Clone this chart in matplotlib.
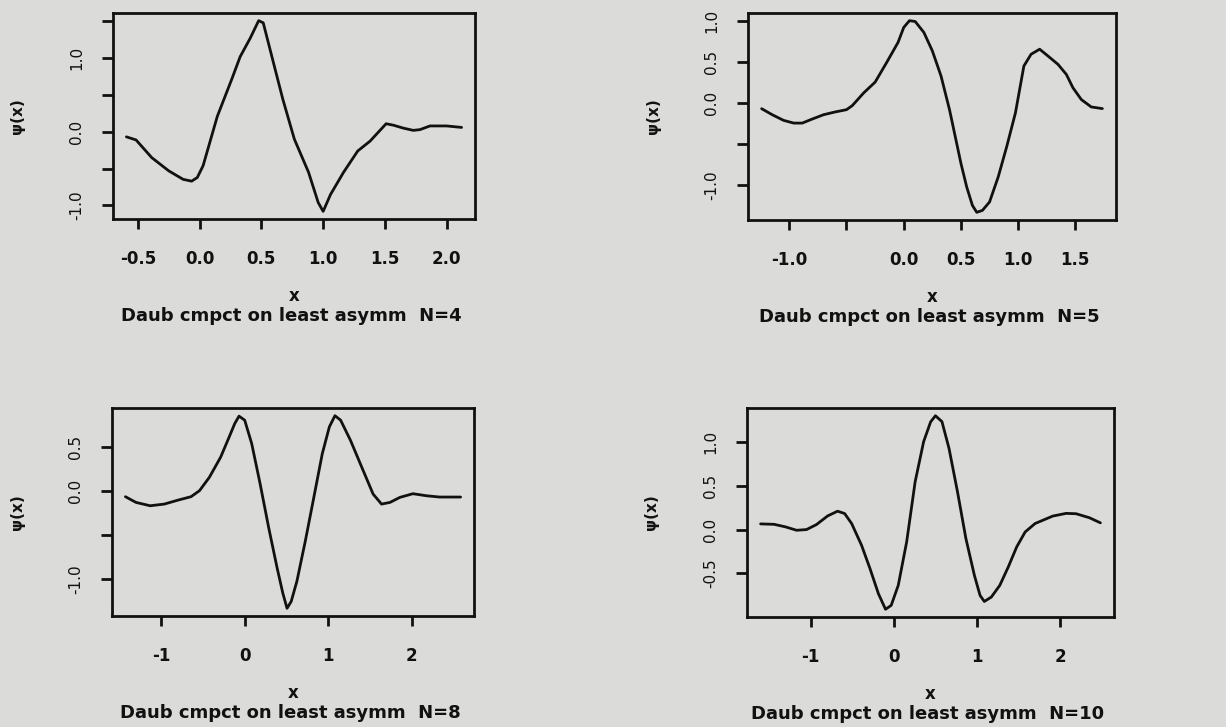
import matplotlib
matplotlib.use("Agg")
import matplotlib.pyplot as plt

# ---------------- data ----------------
titles = ["Daub cmpct on least asymm  N=4", "Daub cmpct on least asymm  N=5",
          "Daub cmpct on least asymm  N=8", "Daub cmpct on least asymm  N=10"]

x_n4 = [-0.593, -0.515, -0.388, -0.25, -0.134, -0.065, -0.019, 0.028, 0.143, 0.259,
        0.328, 0.409, 0.478, 0.515, 0.605, 0.674, 0.767, 0.882, 0.960, 1.000,
        1.060, 1.165, 1.280, 1.380, 1.510, 1.569, 1.650, 1.730, 1.784, 1.865,
        2.000, 2.121]
y_n4 = [-0.068, -0.11, -0.35, -0.53, -0.645, -0.67, -0.62, -0.46, 0.21, 0.71,
        1.02, 1.27, 1.51, 1.48, 0.89, 0.44, -0.10, -0.55, -0.96, -1.08,
        -0.85, -0.55, -0.26, -0.126, 0.11, 0.09, 0.05, 0.02, 0.03, 0.08,
        0.08, 0.06]

x_n5 = [-1.240, -1.148, -1.048, -0.96, -0.885, -0.798, -0.698, -0.598, -0.498, -0.448,
        -0.348, -0.248, -0.148, -0.048, 0.002, 0.052, 0.102, 0.178, 0.252, 0.328,
        0.402, 0.452, 0.502, 0.552, 0.602, 0.640, 0.690, 0.752, 0.828, 0.902,
        0.978, 1.052, 1.115, 1.19, 1.262, 1.350, 1.423, 1.481, 1.554, 1.641,
        1.738]
y_n5 = [-0.07, -0.143, -0.212, -0.245, -0.245, -0.196, -0.143, -0.11, -0.082, -0.033,
        0.122, 0.253, 0.49, 0.735, 0.918, 1.0, 0.99, 0.857, 0.633, 0.327,
        -0.082, -0.408, -0.735, -1.02, -1.245, -1.33, -1.306, -1.204, -0.898, -0.531,
        -0.122, 0.449, 0.592, 0.653, 0.571, 0.469, 0.347, 0.184, 0.041, -0.049,
        -0.069]

x_n8 = [-1.430, -1.303, -1.134, -0.965, -0.796, -0.644, -0.542, -0.424, -0.289, -0.187,
        -0.12, -0.069, -0.001, 0.083, 0.184, 0.286, 0.387, 0.455, 0.506, 0.556,
        0.624, 0.725, 0.827, 0.928, 1.013, 1.08, 1.148, 1.266, 1.401, 1.537,
        1.638, 1.739, 1.857, 2.014, 2.174, 2.333, 2.585]
y_n8 = [-0.061, -0.126, -0.164, -0.145, -0.099, -0.061, 0.008, 0.16, 0.389, 0.618,
        0.771, 0.855, 0.809, 0.542, 0.084, -0.412, -0.87, -1.156, -1.33, -1.252,
        -1.023, -0.565, -0.069, 0.427, 0.733, 0.86, 0.809, 0.58, 0.275, -0.031,
        -0.145, -0.126, -0.069, -0.027, -0.05, -0.065, -0.065]

x_n10 = [-1.600, -1.438, -1.302, -1.167, -1.048, -0.929, -0.794, -0.675, -0.590, -0.506,
         -0.387, -0.285, -0.184, -0.099, -0.031, 0.054, 0.155, 0.257, 0.359, 0.443,
         0.501, 0.579, 0.664, 0.766, 0.867, 0.969, 1.037, 1.088, 1.172, 1.274,
         1.376, 1.477, 1.579, 1.698, 1.910, 2.071, 2.191, 2.351, 2.483]
y_n10 = [0.065, 0.06, 0.031, -0.008, 0.0, 0.057, 0.156, 0.21, 0.183, 0.069,
         -0.179, -0.447, -0.733, -0.91, -0.866, -0.637, -0.141, 0.546, 1.004, 1.23,
         1.30, 1.233, 0.927, 0.431, -0.103, -0.523, -0.752, -0.821, -0.771, -0.637,
         -0.427, -0.198, -0.027, 0.069, 0.154, 0.185, 0.181, 0.135, 0.077]

xticks_n4 = [-0.5, 0.0, 0.5, 1.0, 1.5, 2.0]
xlabels_n4 = ["-0.5", "0.0", "0.5", "1.0", "1.5", "2.0"]
yticks_n4 = [-1.0, -0.5, 0.0, 0.5, 1.0, 1.5]
ylabels_n4 = ["-1.0", "", "0.0", "", "1.0", ""]

xticks_n5 = [-1.0, -0.5, 0.0, 0.5, 1.0, 1.5]
xlabels_n5 = ["-1.0", "", "0.0", "0.5", "1.0", "1.5"]
yticks_n5 = [-1.0, -0.5, 0.0, 0.5, 1.0]
ylabels_n5 = ["-1.0", "", "0.0", "0.5", "1.0"]

xticks_n8 = [-1, 0, 1, 2]
xlabels_n8 = ["-1", "0", "1", "2"]
yticks_n8 = [-1.0, -0.5, 0.0, 0.5]
ylabels_n8 = ["-1.0", "", "0.0", "0.5"]

xticks_n10 = [-1, 0, 1, 2]
xlabels_n10 = ["-1", "0", "1", "2"]
yticks_n10 = [-0.5, 0.0, 0.5, 1.0]
ylabels_n10 = ["-0.5", "0.0", "0.5", "1.0"]

# ---------------- layout / style ----------------
W, H = 1226, 727
BG = "#dbdbd9"
INK = "#111111"
FONT = "DejaVu Sans"

panels = [
    dict(x=x_n4, y=y_n4, xt=xticks_n4, xl=xlabels_n4, yt=yticks_n4, yl=ylabels_n4,
         box=(113, 475, 13, 219), title=titles[0]),
    dict(x=x_n5, y=y_n5, xt=xticks_n5, xl=xlabels_n5, yt=yticks_n5, yl=ylabels_n5,
         box=(748, 1116, 13, 220), title=titles[1]),
    dict(x=x_n8, y=y_n8, xt=xticks_n8, xl=xlabels_n8, yt=yticks_n8, yl=ylabels_n8,
         box=(112, 474, 408, 616), title=titles[2]),
    dict(x=x_n10, y=y_n10, xt=xticks_n10, xl=xlabels_n10, yt=yticks_n10, yl=ylabels_n10,
         box=(747, 1114, 408, 617), title=titles[3]),
]

fig = plt.figure(figsize=(W / 100, H / 100), dpi=100, facecolor=BG)

for p in panels:
    l, r, t, b = p["box"]
    ax = fig.add_axes([l / W, 1 - b / H, (r - l) / W, (b - t) / H])
    ax.set_facecolor(BG)
    ax.plot(p["x"], p["y"], color=INK, lw=2.0, solid_joinstyle="round",
            solid_capstyle="round")
    # R-style 4% padding around the data range
    x0, x1 = min(p["x"]), max(p["x"])
    y0, y1 = min(p["y"]), max(p["y"])
    dx, dy = (x1 - x0) * 0.04, (y1 - y0) * 0.04
    ax.set_xlim(x0 - dx, x1 + dx)
    ax.set_ylim(y0 - dy, y1 + dy)
    for s in ax.spines.values():
        s.set_linewidth(2.0)
        s.set_color(INK)
    ax.set_xticks(p["xt"])
    ax.set_xticklabels(p["xl"], fontsize=12, fontweight="bold", family=FONT, color=INK)
    ax.set_yticks(p["yt"])
    ax.set_yticklabels(p["yl"], fontsize=11, family=FONT, color=INK,
                       rotation=90, va="center")
    ax.tick_params(axis="x", direction="out", length=7, width=2.0, pad=15, color=INK)
    ax.tick_params(axis="y", direction="out", length=8, width=2.0, pad=13, color=INK)
    # y label
    fig.text((l - 95) / W, 1 - ((t + b) / 2) / H, "ψ(x)", rotation=90, ha="center",
             va="center", fontsize=11, fontweight="bold", family=FONT, color=INK)
    cx = (l + r) / 2
    fig.text(cx / W, 1 - (b + 77) / H, "x", ha="center", va="center",
             fontsize=12, fontweight="bold", family=FONT, color=INK)
    fig.text((cx - 3) / W, 1 - (b + 97) / H, p["title"], ha="center", va="center",
             fontsize=13, fontweight="bold", family=FONT, color=INK)

fig.savefig("out.png", dpi=100, facecolor=BG)
